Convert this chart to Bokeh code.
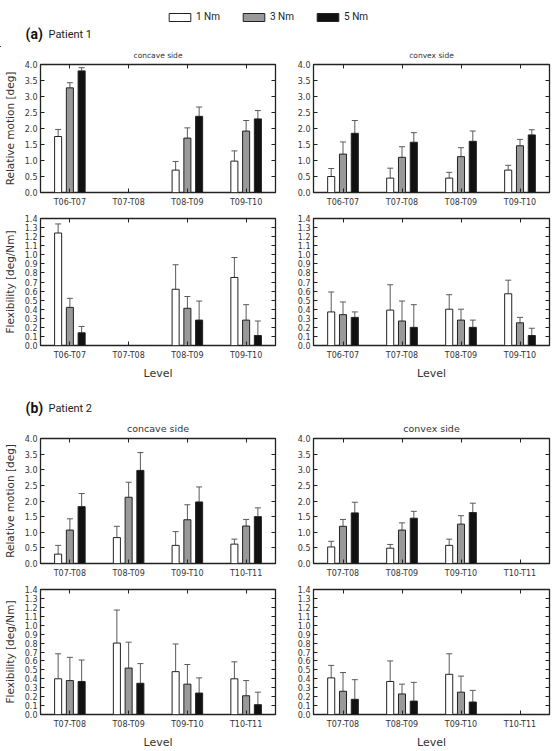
import numpy as np
from bokeh.plotting import figure
from bokeh.models import (ColumnDataSource, Whisker, TeeHead, FixedTicker, LinearAxis, Range1d,
                          Label, Legend, LegendItem, PrintfTickFormatter, CustomLabelingPolicy)
from bokeh.layouts import column, row
from bokeh.embed import file_html
from bokeh.resources import INLINE

# ---------------- data ----------------
levels_p1 = ["T06-T07", "T07-T08", "T08-T09", "T09-T10"]
levels_p2 = ["T07-T08", "T08-T09", "T09-T10", "T10-T11"]
loads = ["1 Nm", "3 Nm", "5 Nm"]

# Patient 1 - relative motion [deg], concave side (means, upper error)
p1_rm_cc_1 = [1.75, 0.0, 0.70, 0.98]; p1_rm_cc_1_err = [0.22, 0.0, 0.27, 0.32]
p1_rm_cc_3 = [3.27, 0.0, 1.70, 1.92]; p1_rm_cc_3_err = [0.16, 0.0, 0.32, 0.33]
p1_rm_cc_5 = [3.80, 0.0, 2.38, 2.30]; p1_rm_cc_5_err = [0.10, 0.0, 0.29, 0.26]
# Patient 1 - relative motion, convex side
p1_rm_cv_1 = [0.50, 0.45, 0.45, 0.70]; p1_rm_cv_1_err = [0.25, 0.31, 0.18, 0.15]
p1_rm_cv_3 = [1.20, 1.10, 1.12, 1.46]; p1_rm_cv_3_err = [0.38, 0.33, 0.28, 0.20]
p1_rm_cv_5 = [1.85, 1.57, 1.60, 1.80]; p1_rm_cv_5_err = [0.40, 0.30, 0.32, 0.16]
# Patient 1 - flexibility [deg/Nm], concave side
p1_fx_cc_1 = [1.24, 0.0, 0.62, 0.75]; p1_fx_cc_1_err = [0.10, 0.0, 0.27, 0.22]
p1_fx_cc_3 = [0.42, 0.0, 0.41, 0.28]; p1_fx_cc_3_err = [0.10, 0.0, 0.13, 0.17]
p1_fx_cc_5 = [0.14, 0.0, 0.28, 0.11]; p1_fx_cc_5_err = [0.07, 0.0, 0.21, 0.16]
# Patient 1 - flexibility, convex side
p1_fx_cv_1 = [0.37, 0.39, 0.40, 0.57]; p1_fx_cv_1_err = [0.22, 0.28, 0.16, 0.15]
p1_fx_cv_3 = [0.34, 0.27, 0.28, 0.25]; p1_fx_cv_3_err = [0.14, 0.22, 0.12, 0.06]
p1_fx_cv_5 = [0.31, 0.20, 0.20, 0.11]; p1_fx_cv_5_err = [0.06, 0.25, 0.08, 0.08]

# Patient 2 - relative motion, concave side
p2_rm_cc_1 = [0.30, 0.83, 0.58, 0.62]; p2_rm_cc_1_err = [0.28, 0.36, 0.44, 0.16]
p2_rm_cc_3 = [1.07, 2.12, 1.40, 1.20]; p2_rm_cc_3_err = [0.36, 0.48, 0.48, 0.21]
p2_rm_cc_5 = [1.82, 2.98, 1.97, 1.50]; p2_rm_cc_5_err = [0.42, 0.57, 0.48, 0.28]
# Patient 2 - relative motion, convex side
p2_rm_cv_1 = [0.53, 0.49, 0.58, 0.0]; p2_rm_cv_1_err = [0.18, 0.12, 0.20, 0.0]
p2_rm_cv_3 = [1.19, 1.07, 1.26, 0.0]; p2_rm_cv_3_err = [0.22, 0.23, 0.27, 0.0]
p2_rm_cv_5 = [1.62, 1.45, 1.63, 0.0]; p2_rm_cv_5_err = [0.34, 0.22, 0.30, 0.0]
# Patient 2 - flexibility, concave side
p2_fx_cc_1 = [0.40, 0.80, 0.48, 0.40]; p2_fx_cc_1_err = [0.28, 0.37, 0.31, 0.19]
p2_fx_cc_3 = [0.38, 0.52, 0.34, 0.21]; p2_fx_cc_3_err = [0.26, 0.29, 0.22, 0.17]
p2_fx_cc_5 = [0.37, 0.35, 0.24, 0.11]; p2_fx_cc_5_err = [0.24, 0.22, 0.17, 0.14]
# Patient 2 - flexibility, convex side
p2_fx_cv_1 = [0.41, 0.37, 0.45, 0.0]; p2_fx_cv_1_err = [0.14, 0.23, 0.23, 0.0]
p2_fx_cv_3 = [0.26, 0.23, 0.25, 0.0]; p2_fx_cv_3_err = [0.21, 0.11, 0.18, 0.0]
p2_fx_cv_5 = [0.17, 0.15, 0.14, 0.0]; p2_fx_cv_5_err = [0.22, 0.21, 0.13, 0.0]

# ---------------- styling ----------------
FONT = "DejaVu Sans"
HFONT = "Roboto"
BAR_FILLS = ["#ffffff", "#999999", "#111111"]
EDGE = "#222222"
ERR = "#5a5a5a"
TXT = "#333333"
OFFSETS = [-0.2, 0.0, 0.2]

NO_LABELS = "for (const i of indices) { indices.unset(i) }\nreturn indices"


def style_axis(ax, show_labels=True, size="8px"):
    ax.axis_line_color = None
    ax.major_tick_in = 4
    ax.major_tick_out = 0
    ax.major_tick_line_color = "#222222"
    ax.minor_tick_line_color = None
    ax.major_label_text_font = FONT
    ax.major_label_text_color = TXT
    if show_labels:
        ax.major_label_text_font_size = size
        ax.major_label_standoff = 3
    else:
        ax.major_label_text_font_size = "1px"
        ax.major_label_standoff = 0
        ax.major_label_policy = CustomLabelingPolicy(code=NO_LABELS)


def make_panel(levels, series, errors, ymax, ystep, title, title_size, ylabel, xlabel,
               width, height, bl, br, bt, bb):
    p = figure(width=width, height=height, x_range=Range1d(-0.5, 3.5), y_range=Range1d(0, ymax),
               output_backend="svg", toolbar_location=None, x_axis_type=None, y_axis_type=None,
               min_border_left=bl, min_border_right=br, min_border_top=bt, min_border_bottom=bb,
               title=title)
    p.title.align = "center"
    p.title.text_font = FONT
    p.title.text_font_size = title_size
    p.title.text_font_style = "normal"
    p.title.text_color = TXT
    p.title.standoff = 1
    p.title.offset = 0
    p.grid.visible = False
    p.outline_line_color = "#222222"
    p.outline_line_width = 1.3
    p.background_fill_color = "white"

    yticks = [round(v, 2) for v in np.arange(0, ymax + 1e-9, ystep)]
    xticks = [0, 1, 2, 3]

    left = LinearAxis(ticker=FixedTicker(ticks=yticks), formatter=PrintfTickFormatter(format="%.1f"))
    style_axis(left)
    if ylabel:
        left.axis_label = ylabel
        left.axis_label_text_font = FONT
        left.axis_label_text_font_size = "10.5px"
        left.axis_label_text_font_style = "normal"
        left.axis_label_text_color = TXT
        left.axis_label_standoff = 6
    p.add_layout(left, "left")

    right = LinearAxis(ticker=FixedTicker(ticks=yticks))
    style_axis(right, show_labels=False)
    p.add_layout(right, "right")

    bottom = LinearAxis(ticker=FixedTicker(ticks=xticks),
                        major_label_overrides={i: lv for i, lv in enumerate(levels)})
    style_axis(bottom)
    bottom.major_label_standoff = 5
    if xlabel:
        bottom.axis_label = xlabel
        bottom.axis_label_text_font = FONT
        bottom.axis_label_text_font_size = "11px"
        bottom.axis_label_text_font_style = "normal"
        bottom.axis_label_text_color = TXT
        bottom.axis_label_standoff = 4
    p.add_layout(bottom, "below")

    top = LinearAxis(ticker=FixedTicker(ticks=xticks))
    style_axis(top, show_labels=False)
    p.add_layout(top, "above")

    for k, (vals, errs) in enumerate(zip(series, errors)):
        x = np.arange(4) + OFFSETS[k]
        vals = np.array(vals, dtype=float)
        errs = np.array(errs, dtype=float)
        src = ColumnDataSource(dict(x=x, top=vals))
        p.vbar(x="x", top="top", width=0.12, source=src, fill_color=BAR_FILLS[k],
               line_color=EDGE, line_width=1)
        keep = errs > 0
        wsrc = ColumnDataSource(dict(x=x[keep], lower=vals[keep], upper=(vals + errs)[keep]))
        w = Whisker(base="x", lower="lower", upper="upper", source=wsrc, dimension="height",
                    line_color=ERR, line_width=1,
                    upper_head=TeeHead(size=6, line_color=ERR, line_width=1), lower_head=None)
        p.add_layout(w)
    return p


def make_header(height, letter, text, y_text, with_legend):
    h = figure(width=558, height=height, x_range=Range1d(0, 558), y_range=Range1d(0, height),
               output_backend="svg", toolbar_location=None, x_axis_type=None, y_axis_type=None,
               min_border=0, outline_line_color=None)
    h.grid.visible = False
    h.add_layout(Label(x=25, y=y_text, text=letter, text_font=HFONT,
                       text_font_size="14px", text_font_style="bold", text_baseline="middle",
                       text_color="#111111"))
    h.add_layout(Label(x=48, y=y_text - 1, text=text, text_font=HFONT,
                       text_font_size="11px", text_baseline="middle", text_color="#222222"))
    if with_legend:
        rends = []
        for k in range(3):
            r = h.vbar(x=[-500], top=[1], width=1, fill_color=BAR_FILLS[k], line_color=EDGE,
                       line_width=1)
            rends.append(r)
        leg = Legend(items=[LegendItem(label=loads[k], renderers=[rends[k]]) for k in range(3)],
                     location=(166, 25), orientation="horizontal", glyph_width=27, glyph_height=10,
                     spacing=20, padding=0, margin=0, border_line_color=None,
                     background_fill_alpha=0, label_text_font=HFONT, label_text_font_size="10px",
                     label_standoff=3, label_height=10, label_text_color="#222222")
        h.add_layout(leg)
    return h


W_L, W_R = 280, 278

# Patient 1
hA = make_header(47, "(a)", "Patient 1", 14, True)
pa1 = make_panel(levels_p1, [p1_rm_cc_1, p1_rm_cc_3, p1_rm_cc_5],
                 [p1_rm_cc_1_err, p1_rm_cc_3_err, p1_rm_cc_5_err],
                 4.0, 0.5, "concave side", "7.5px", "Relative motion [deg]", None,
                 W_L, 162, 40, 2, 17, 16)
pa2 = make_panel(levels_p1, [p1_rm_cv_1, p1_rm_cv_3, p1_rm_cv_5],
                 [p1_rm_cv_1_err, p1_rm_cv_3_err, p1_rm_cv_5_err],
                 4.0, 0.5, "convex side", "7.5px", None, None,
                 W_R, 162, 33, 9, 17, 16)
pa3 = make_panel(levels_p1, [p1_fx_cc_1, p1_fx_cc_3, p1_fx_cc_5],
                 [p1_fx_cc_1_err, p1_fx_cc_3_err, p1_fx_cc_5_err],
                 1.4, 0.1, "", "7.5px", "Flexibility [deg/Nm]", "Level",
                 W_L, 173, 40, 2, 9, 34)
pa4 = make_panel(levels_p1, [p1_fx_cv_1, p1_fx_cv_3, p1_fx_cv_5],
                 [p1_fx_cv_1_err, p1_fx_cv_3_err, p1_fx_cv_5_err],
                 1.4, 0.1, "", "7.5px", None, "Level",
                 W_R, 173, 33, 9, 9, 34)

# Patient 2
hB = make_header(38, "(b)", "Patient 2", 13, False)
pb1 = make_panel(levels_p2, [p2_rm_cc_1, p2_rm_cc_3, p2_rm_cc_5],
                 [p2_rm_cc_1_err, p2_rm_cc_3_err, p2_rm_cc_5_err],
                 4.0, 0.5, "concave side", "9.5px", "Relative motion [deg]", None,
                 W_L, 160, 40, 2, 16, 16)
pb2 = make_panel(levels_p2, [p2_rm_cv_1, p2_rm_cv_3, p2_rm_cv_5],
                 [p2_rm_cv_1_err, p2_rm_cv_3_err, p2_rm_cv_5_err],
                 4.0, 0.5, "convex side", "9.5px", None, None,
                 W_R, 160, 33, 9, 16, 16)
pb3 = make_panel(levels_p2, [p2_fx_cc_1, p2_fx_cc_3, p2_fx_cc_5],
                 [p2_fx_cc_1_err, p2_fx_cc_3_err, p2_fx_cc_5_err],
                 1.4, 0.1, "", "7.5px", "Flexibility [deg/Nm]", "Level",
                 W_L, 171, 40, 2, 9, 32)
pb4 = make_panel(levels_p2, [p2_fx_cv_1, p2_fx_cv_3, p2_fx_cv_5],
                 [p2_fx_cv_1_err, p2_fx_cv_3_err, p2_fx_cv_5_err],
                 1.4, 0.1, "", "7.5px", None, "Level",
                 W_R, 171, 33, 9, 9, 32)

layout = column(hA, row(pa1, pa2), row(pa3, pa4), hB, row(pb1, pb2), row(pb3, pb4))

with open("out.html", "w") as f:
    f.write(file_html(layout, INLINE))
